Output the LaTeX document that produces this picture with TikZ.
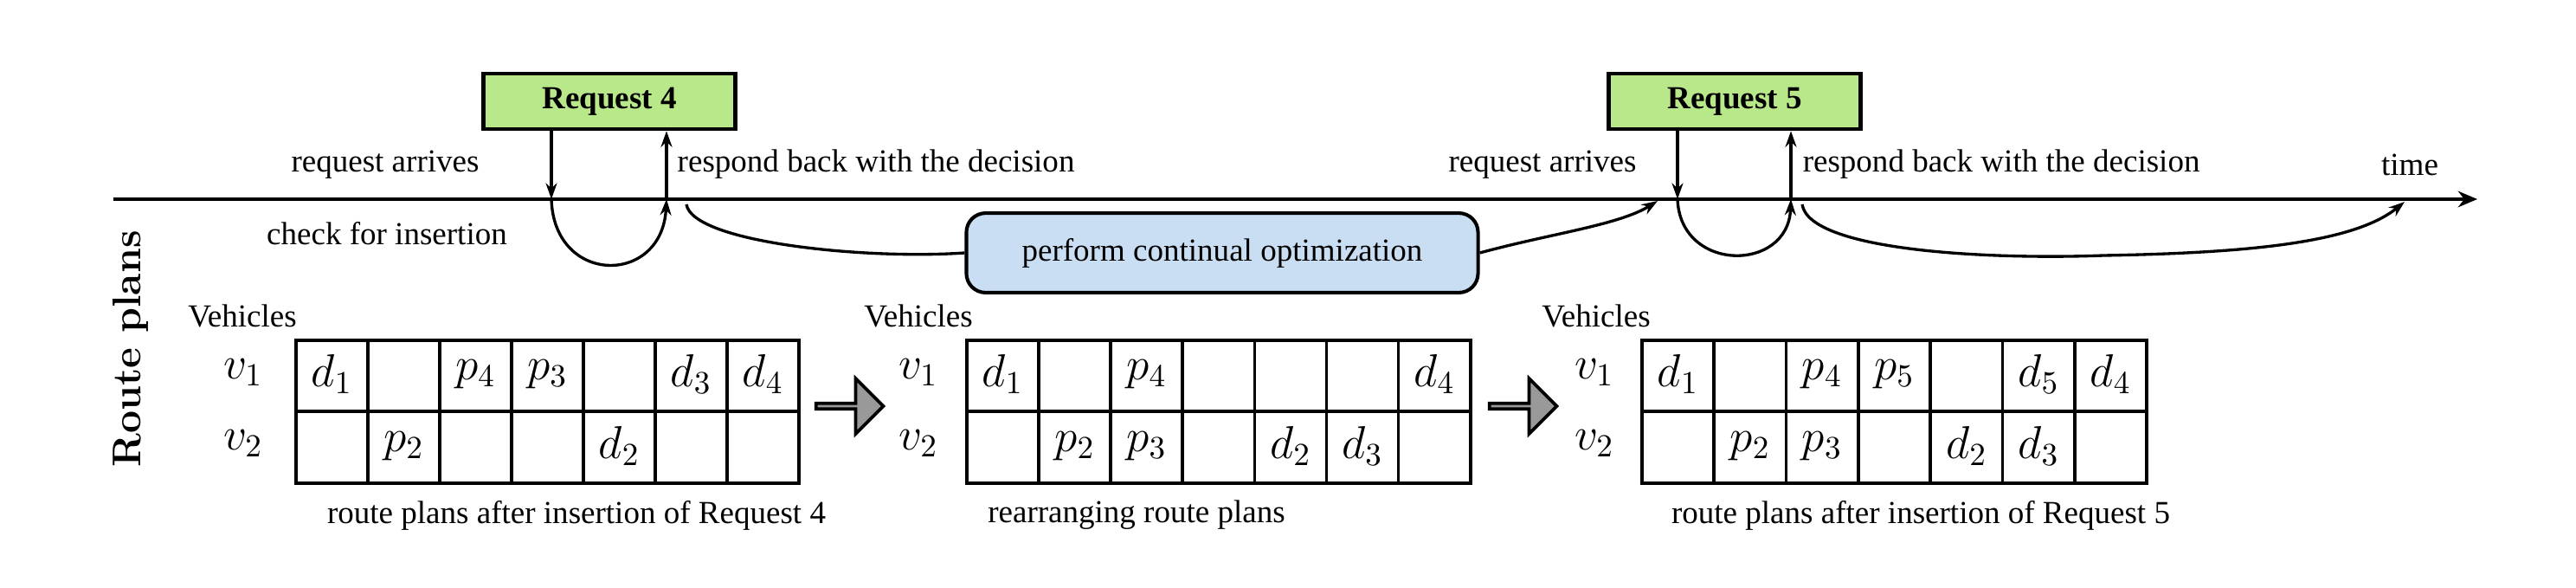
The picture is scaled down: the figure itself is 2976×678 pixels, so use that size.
\documentclass[tikz,border=0pt]{standalone}
\usepackage{fontspec}
\setmainfont{Liberation Serif}
\newfontfamily\lmfam{Latin Modern Roman}
\usetikzlibrary{arrows.meta,shapes.arrows}
\definecolor{reqgreen}{HTML}{B9E88A}
\definecolor{optblue}{HTML}{C9DDF3}
\begin{document}
\begin{tikzpicture}[x=0.27pt,y=-0.27pt,
  lbl/.style={inner sep=0pt,font=\fontsize{10}{12}\selectfont},
  req/.style={draw,line width=1.2pt,fill=reqgreen,minimum width=78.6pt,minimum height=17.3pt,font=\bfseries,inner sep=0pt},
  opt/.style={draw,line width=1.1pt,fill=optblue,rounded corners=6pt,minimum width=159.6pt,minimum height=24.8pt,inner sep=0pt},
  ln/.style={line width=0.9pt},
  arr/.style={ln,-{Stealth[length=5pt,width=3.5pt]}},
  cell/.style={inner sep=0pt,font=\fontsize{14}{16}\selectfont},
  big/.style={single arrow,draw,line width=1pt,fill=gray!80,minimum width=17.3pt,minimum height=21pt,single arrow head extend=4.3pt,inner sep=0pt}]
\useasboundingbox (0,0) rectangle (2976,678);
% timeline
\coordinate (t0) at (131,230); \coordinate (t1) at (2862,230);
\draw[line width=1.1pt,-{Stealth[length=6pt,width=5pt]}] (t0) -- (t1);
% request 4
\node[req] (r4) at (704,117) {Request 4};
\coordinate (a4) at (637,230); \coordinate (b4) at (770,230);
\draw[arr] (r4.south -| a4) -- (a4);
\draw[arr] (b4) -- (r4.south -| b4);
\draw[arr] (a4) .. controls (640,330) and (765,330) .. (b4);
\node[lbl] (ra1) at (445,190) {request arrives};
\node[lbl,anchor=west] (rb1) at (782,190) {respond back with the decision};
\node[lbl] (ci) at (447,270) {check for insertion};
% optimization
\node[opt] (opt) at (1412,292) {perform continual optimization};
\coordinate (s1) at (793,236); \coordinate (e1) at (1915,232);
\draw[ln] (s1) .. controls (800,280) and (1000,300) .. (opt.west);
\draw[arr] (opt.east) .. controls (1790,270) and (1870,260) .. (e1);
% request 5
\node[req] (r5) at (2004,117) {Request 5};
\coordinate (a5) at (1938,230); \coordinate (b5) at (2069,230);
\draw[arr] (r5.south -| a5) -- (a5);
\draw[arr] (b5) -- (r5.south -| b5);
\draw[arr] (a5) .. controls (1941,315) and (2066,315) .. (b5);
\node[lbl] (ra2) at (1782,190) {request arrives};
\node[lbl,anchor=west] (rb2) at (2082,190) {respond back with the decision};
\node[lbl] (tm) at (2784,190) {time};
\coordinate (s2) at (2082,236); \coordinate (e2) at (2778,233);
\draw[arr] (s2) .. controls (2090,290) and (2300,300) .. (2430,295) .. controls (2600,292) and (2720,280) .. (e2);
% route plans label
\node[rotate=90,inner sep=0pt,font=\lmfam\bfseries\fontsize{12.5}{14}\selectfont] (rp) at (151,403) {Route plans};
% tables
\foreach \tx/\cw/\vx/\vhx/\capx/\capt/\ra/\rb [count=\k] in {
  342/83/281/280/666/{route plans after insertion of Request 4}/{d_1,,p_4,p_3,,d_3,d_4}/{,p_2,,,d_2,,},
  1117/83.1/1061/1061/1313/{rearranging route plans}/{d_1,,p_4,,,,d_4}/{,p_2,p_3,,d_2,d_3,},
  1897/83.3/1842/1844/2219/{route plans after insertion of Request 5}/{d_1,,p_4,p_5,,d_5,d_4}/{,p_2,p_3,,d_2,d_3,}}{
  \pgfmathsetmacro{\tr}{\tx+7*\cw}
  \draw[line width=1.1pt] (\tx,393) rectangle (\tr,558);
  \draw[line width=1.1pt] (\tx,475) -- (\tr,475);
  \foreach \i in {1,...,6}{\draw[line width=1pt] ({\tx+\i*\cw},393) -- ({\tx+\i*\cw},558);}
  \foreach \c [count=\j] in \ra {\node[cell] (c\k a\j) at ({\tx+(\j-0.5)*\cw},432) {$\c$};}
  \foreach \c [count=\j] in \rb {\node[cell] (c\k b\j) at ({\tx+(\j-0.5)*\cw},515) {$\c$};}
  \node[lbl] (veh\k) at (\vhx,365) {Vehicles};
  \node[cell] (va\k) at (\vx,430) {$v_1$};
  \node[cell] (vb\k) at (\vx,512) {$v_2$};
  \node[lbl] (cap\k) at (\capx,595) {\capt};
}
\node[big] (ar1) at (980,469) {};
\node[big] (ar2) at (1758,469) {};
\end{tikzpicture}
\end{document}
